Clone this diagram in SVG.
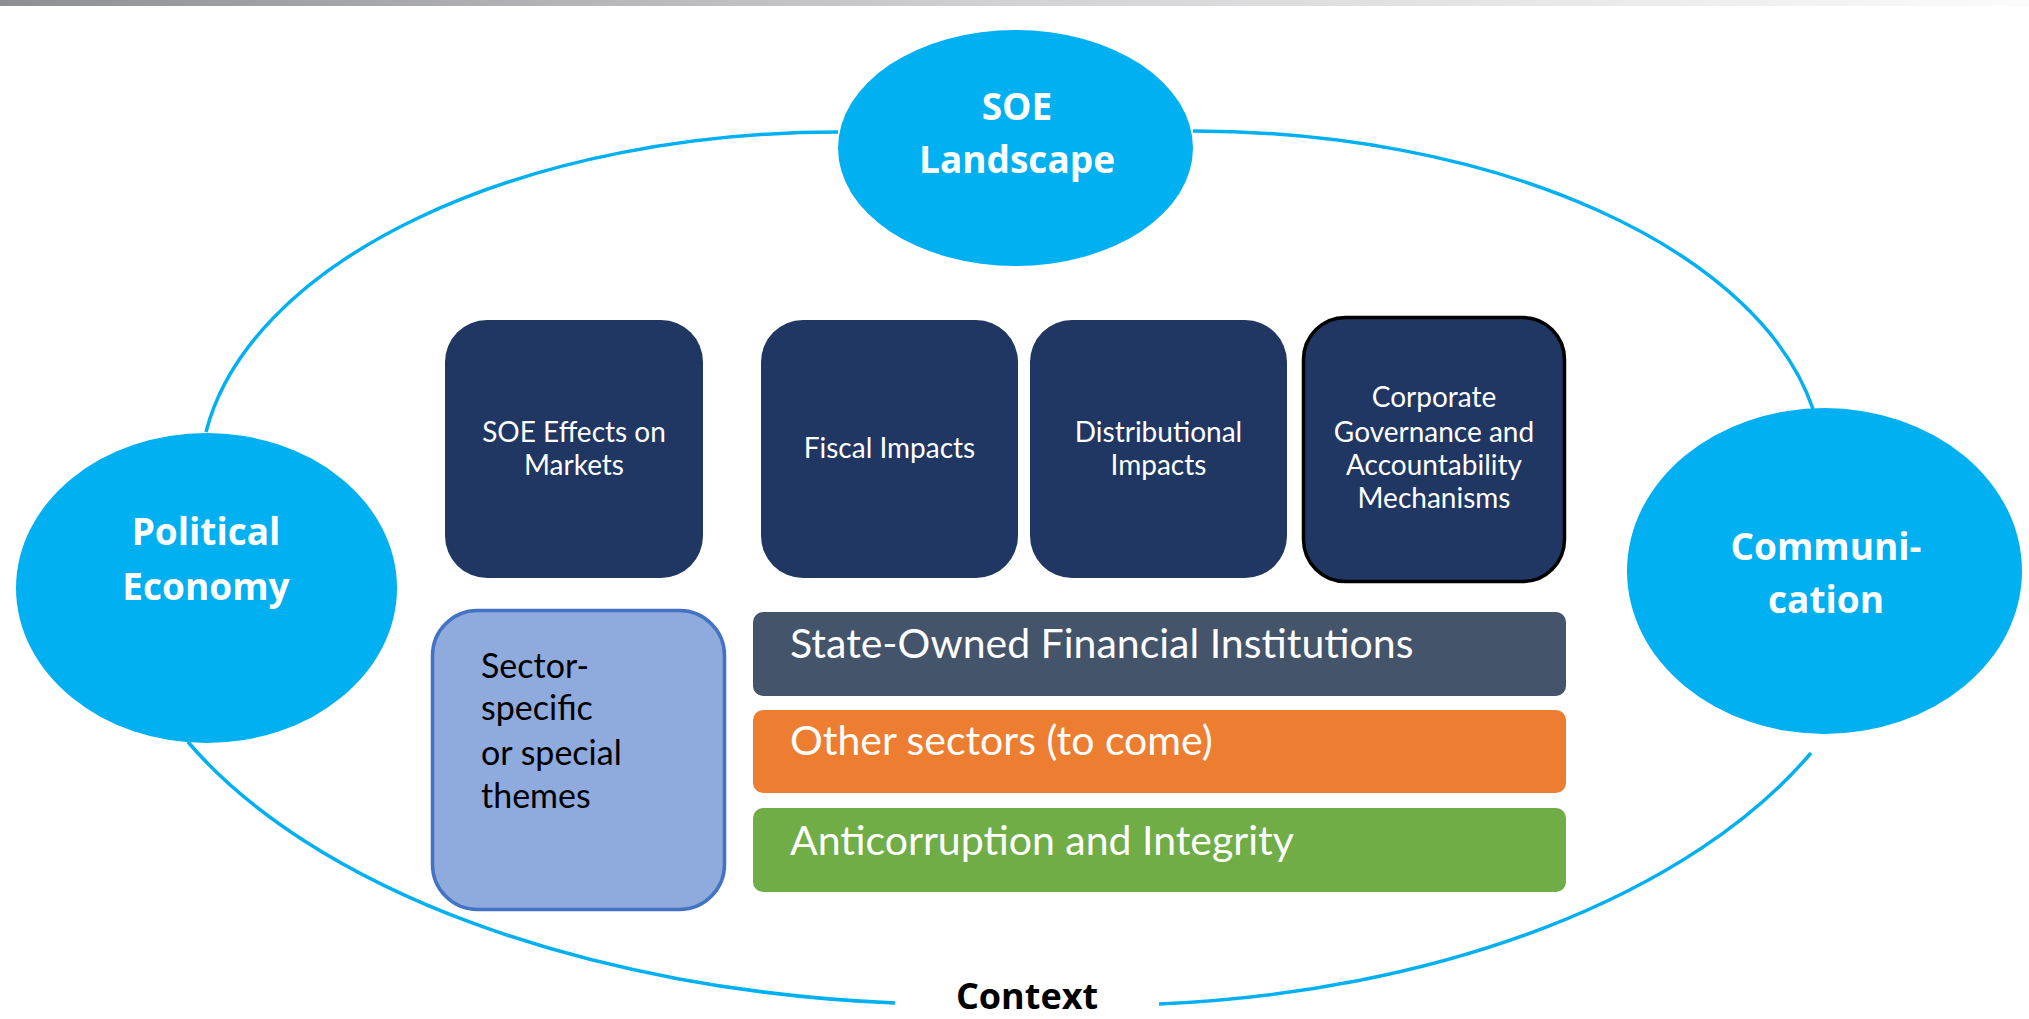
<svg xmlns="http://www.w3.org/2000/svg" width="2029" height="1019" viewBox="0 0 2029 1019">
<defs>
<linearGradient id="topbar" x1="0" y1="0" x2="1" y2="0">
<stop offset="0" stop-color="#8e8f93"/>
<stop offset="0.5" stop-color="#d2d2d4"/>
<stop offset="1" stop-color="#fbfbfb"/>
</linearGradient>
<style>
.ring{fill:none;stroke:#00b0f0;stroke-width:3.5}
.blob{fill:#00b0f0}
.blobtxt{font-family:"Open Sans","Liberation Sans",sans-serif;font-weight:700;font-size:37px;fill:#ffffff;text-anchor:middle}
.navy{fill:#213763}
.navytxt{font-family:Lato,"Liberation Sans",sans-serif;font-size:28px;fill:#ffffff;text-anchor:middle}
.bartxt{font-family:Lato,"Liberation Sans",sans-serif;font-size:41px;fill:#ffffff}
.sectxt{font-family:Lato,"Liberation Sans",sans-serif;font-size:34px;fill:#000000}
.ctx{font-family:"Open Sans","Liberation Sans",sans-serif;font-weight:700;font-size:36px;fill:#000000;text-anchor:middle}
</style>
</defs>
<rect x="0" y="0" width="2029" height="1019" fill="#ffffff"/>
<rect x="0" y="0" width="2029" height="6" fill="url(#topbar)"/>

<g id="connectors">
<path class="ring" d="M838,132 A638,348 0 0 0 206,432"/>
<path class="ring" d="M1193,131 A631,339 0 0 1 1813,409"/>
<path class="ring" d="M188,742 A848,443 0 0 0 895,1003"/>
<path class="ring" d="M1159,1004 A790,444 0 0 0 1811,753"/>
</g>

<g id="soe-landscape">
<ellipse class="blob" cx="1015.5" cy="148" rx="177.5" ry="118"/>
<text class="blobtxt" x="1017" y="120">SOE</text>
<text class="blobtxt" x="1017" y="173">Landscape</text>
</g>

<g id="political-economy">
<ellipse class="blob" cx="206.5" cy="588" rx="190.5" ry="155"/>
<text class="blobtxt" x="206" y="545">Political</text>
<text class="blobtxt" x="206" y="600">Economy</text>
</g>

<g id="communication">
<ellipse class="blob" cx="1824.5" cy="571" rx="197.5" ry="163"/>
<text class="blobtxt" x="1826" y="560">Communi-</text>
<text class="blobtxt" x="1826" y="613">cation</text>
</g>

<g id="soe-effects">
<rect class="navy" x="445" y="320" width="258" height="258" rx="42"/>
<text class="navytxt" x="574" y="442">SOE Effects on</text>
<text class="navytxt" x="574" y="475">Markets</text>
</g>

<g id="fiscal-impacts">
<rect class="navy" x="761" y="320" width="257" height="258" rx="42"/>
<text class="navytxt" x="889.5" y="458">Fiscal Impacts</text>
</g>

<g id="distributional-impacts">
<rect class="navy" x="1030" y="320" width="257" height="258" rx="42"/>
<text class="navytxt" x="1158.5" y="442">Distributional</text>
<text class="navytxt" x="1158.5" y="475">Impacts</text>
</g>

<g id="corporate-governance">
<rect class="navy" x="1303.5" y="317.5" width="261" height="264" rx="42" stroke="#000000" stroke-width="3.5"/>
<text class="navytxt" x="1434" y="407">Corporate</text>
<text class="navytxt" x="1434" y="442">Governance and</text>
<text class="navytxt" x="1434" y="475">Accountability</text>
<text class="navytxt" x="1434" y="508">Mechanisms</text>
</g>

<g id="sector-specific">
<rect x="432.5" y="610.5" width="292" height="299" rx="45" fill="#8faadc" stroke="#4472c4" stroke-width="3.5"/>
<text class="sectxt" x="481" y="678">Sector-</text>
<text class="sectxt" x="481" y="720">specific</text>
<text class="sectxt" x="481" y="765">or special</text>
<text class="sectxt" x="481" y="808">themes</text>
</g>

<g id="sofi">
<rect x="753" y="612" width="813" height="84" rx="10" fill="#44546a"/>
<text class="bartxt" x="790" y="658">State-Owned Financial Institutions</text>
</g>

<g id="other-sectors">
<rect x="753" y="710" width="813" height="83" rx="10" fill="#ed7d31"/>
<text class="bartxt" x="790" y="755">Other sectors (to come)</text>
</g>

<g id="anticorruption">
<rect x="753" y="808" width="813" height="84" rx="10" fill="#70ad47"/>
<text class="bartxt" x="790" y="855">Anticorruption and Integrity</text>
</g>

<g id="context">
<text class="ctx" x="1027" y="1009">Context</text>
</g>
</svg>
